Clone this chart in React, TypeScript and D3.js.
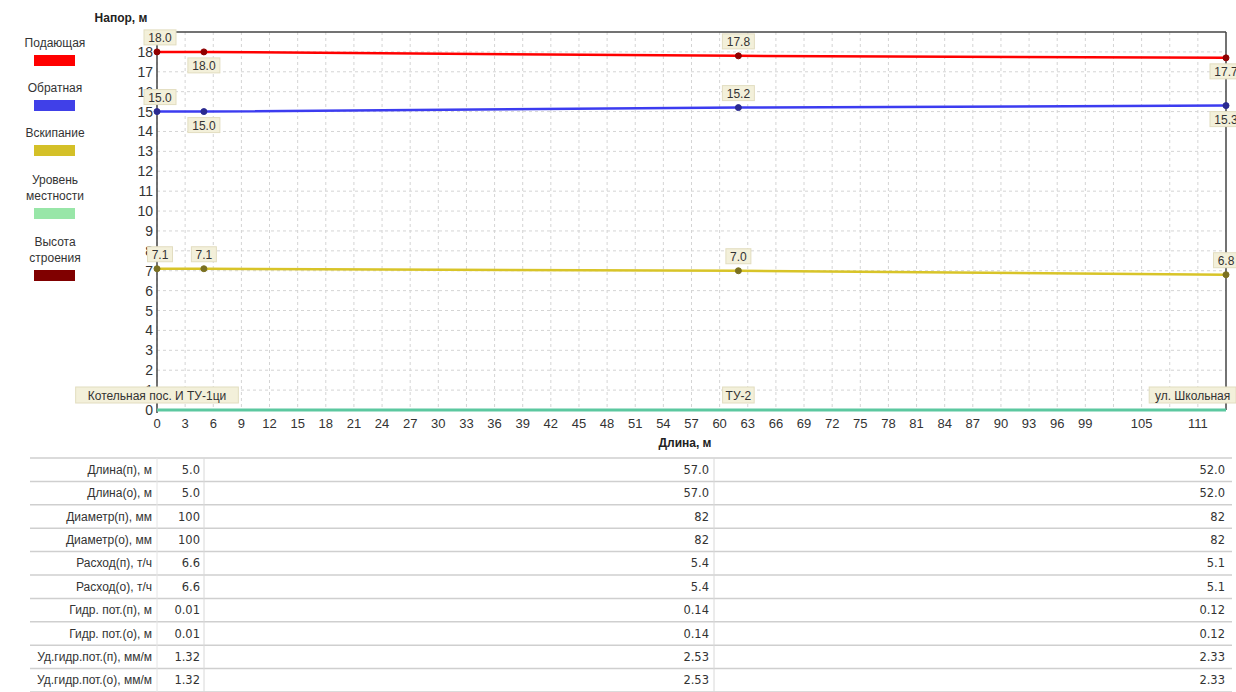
import React from "react";
import * as d3 from "d3";

// ---------- DATA ----------
const nodeX = [0, 5, 62, 114];
const nodeNames = ["Котельная пос. И ТУ-1ци", "", "ТУ-2", "ул. Школьная"];
const supply = [18.0, 18.0, 17.8, 17.7];
const ret = [15.0, 15.0, 15.2, 15.3];
const boiling = [7.1, 7.1, 7.0, 6.8];
const ground = [0, 0, 0, 0];
const building = [0, 0, 0, 0];

const supplyLabelPos = ["above", "below", "above", "below"];
const retLabelPos = ["above", "below", "above", "below"];
const boilLabelPos = ["above", "above", "above", "above"];

const yTicks = d3.range(0, 19, 1);
const xGrid = d3.range(0, 114, 3);
const xTickLabels = [0, 3, 6, 9, 12, 15, 18, 21, 24, 27, 30, 33, 36, 39, 42, 45, 48, 51, 54, 57, 60, 63, 66, 69, 72, 75, 78, 81, 84, 87, 90, 93, 96, 99, 105, 111];

const legendNames = [["Подающая"], ["Обратная"], ["Вскипание"], ["Уровень", "местности"], ["Высота", "строения"]];
const legendColors = ["#ff0000", "#4040e8", "#d4c028", "#98e6a8", "#800000"];

const rowLabels = [
  "Длина(п), м", "Длина(о), м", "Диаметр(п), мм", "Диаметр(о), мм", "Расход(п), т/ч",
  "Расход(о), т/ч", "Гидр. пот.(п), м", "Гидр. пот.(о), м", "Уд.гидр.пот.(п), мм/м", "Уд.гидр.пот.(о), мм/м",
];
const col1 = ["5.0", "5.0", "100", "100", "6.6", "6.6", "0.01", "0.01", "1.32", "1.32"];
const col2 = ["57.0", "57.0", "82", "82", "5.4", "5.4", "0.14", "0.14", "2.53", "2.53"];
const col3 = ["52.0", "52.0", "82", "82", "5.1", "5.1", "0.12", "0.12", "2.33", "2.33"];

// ---------- LAYOUT ----------
const W = 1236, H = 692;
const x = d3.scaleLinear().domain([0, 114]).range([157, 1226]);
const y = d3.scaleLinear().domain([0, 19]).range([410, 32]);
const FONT = "'Liberation Sans', Arial, sans-serif";

function ValueLabel({ cx, cy, text, pos }: { cx: number; cy: number; text: string; pos: string }) {
  const w = text.length * 7 + 4;
  const h = 15;
  const top = pos === "above" ? cy - 7 - h : cy + 6;
  return (
    <g>
      <rect x={cx - w / 2} y={top} width={w} height={h} fill="#f3f0da" stroke="#e2ddc0" strokeWidth={1} />
      <text x={cx} y={top + 12} textAnchor="middle" fontSize={12} fill="#333" fontFamily={FONT}>{text}</text>
    </g>
  );
}

function Series({ data, color, dark, labels }: { data: number[]; color: string; dark: string; labels?: string[] }) {
  const line = d3.line<number>().x((_, i) => x(nodeX[i])).y((d) => y(d));
  return (
    <g>
      <path d={line(data) || ""} fill="none" stroke={color} strokeWidth={2.5} />
      {data.map((d, i) => (
        <circle key={i} cx={x(nodeX[i])} cy={y(d)} r={3} fill={dark} stroke={dark} />
      ))}
      {labels &&
        data.map((d, i) => (
          <ValueLabel key={"l" + i} cx={x(nodeX[i]) + (i === 0 ? 3 : 0)} cy={y(d)} text={d.toFixed(1)} pos={labels[i]} />
        ))}
    </g>
  );
}

export default function App() {
  const rowTop = 458;
  const rowH = 23.4;
  const groundLine = d3.line<number>().x((_, i) => x(nodeX[i])).y((d) => y(d));
  return (
    <svg width={W} height={H} style={{ position: "absolute", left: 0, top: 0, background: "#fff" }} fontFamily={FONT}>
      {/* title */}
      <text x={121} y={22} textAnchor="middle" fontSize={12} fontWeight="bold" fill="#222">Напор, м</text>

      {/* grid */}
      {yTicks.map((t) => (
        <line key={"gy" + t} x1={x(0)} x2={x(114)} y1={y(t)} y2={y(t)} stroke="#d4d4d4" strokeDasharray="3,3" />
      ))}
      {xGrid.map((t) => (
        <line key={"gx" + t} x1={x(t)} x2={x(t)} y1={y(19)} y2={y(0)} stroke="#d4d4d4" strokeDasharray="3,3" />
      ))}

      {/* y tick labels */}
      {yTicks.map((t) => (
        <text key={"yl" + t} x={153} y={y(t) + 5} textAnchor="end" fontSize={14} fill="#333">{t}</text>
      ))}
      {/* x tick labels */}
      {xTickLabels.map((t) => (
        <text key={"xl" + t} x={x(t)} y={428} textAnchor="middle" fontSize={13} fill="#333">{t}</text>
      ))}
      <text x={685} y={447} textAnchor="middle" fontSize={12} fontWeight="bold" fill="#222">Длина, м</text>

      {/* frame */}
      <line x1={x(0)} x2={x(114)} y1={y(19)} y2={y(19)} stroke="#444" strokeWidth={1.5} />
      <line x1={x(114)} x2={x(114)} y1={y(19)} y2={y(0)} stroke="#444" strokeWidth={1.5} />
      <line x1={x(0)} x2={x(0)} y1={y(19)} y2={y(0) + 3} stroke="#444" strokeWidth={1.5} />

      {/* ground / building */}
      <path d={groundLine(building) || ""} fill="none" stroke="#800000" strokeWidth={2} />
      <path d={groundLine(ground) || ""} fill="none" stroke="#5cc8a0" strokeWidth={3} />

      {/* node name labels */}
      {nodeNames.map((n, i) => {
        if (!n) return null;
        const w = n.length * 6.9 + 4;
        let cx = x(nodeX[i]);
        let left = cx - w / 2;
        if (left + w > W) left = W - w;
        return (
          <g key={"nn" + i}>
            <rect x={left} y={387} width={w} height={16} fill="#f3f0da" stroke="#e2ddc0" />
            <text x={left + w / 2} y={399.5} textAnchor="middle" fontSize={12} fill="#333">{n}</text>
          </g>
        );
      })}

      {/* series */}
      <Series data={boiling} color="#d8c428" dark="#7a7020" labels={boilLabelPos} />
      <Series data={ret} color="#3c3cf0" dark="#2a2a90" labels={retLabelPos} />
      <Series data={supply} color="#ff0000" dark="#900000" labels={supplyLabelPos} />

      {/* legend */}
      {legendNames.map((lines, i) => {
        const tops = [43, 88, 133, 180, 242];
        const t0 = tops[i];
        return (
          <g key={"lg" + i}>
            {lines.map((ln, j) => (
              <text key={j} x={55} y={t0 + 4 + j * 16} textAnchor="middle" fontSize={12} fill="#333">{ln}</text>
            ))}
            <rect x={34} y={t0 + 12 + (lines.length - 1) * 16} width={41} height={11} fill={legendColors[i]} />
          </g>
        );
      })}

      {/* table */}
      {d3.range(rowLabels.length + 1).map((r) => (
        <line key={"tr" + r} x1={30} x2={1232} y1={rowTop + r * rowH} y2={rowTop + r * rowH} stroke="#cfcfcf" strokeWidth={1.5} />
      ))}
      <line x1={157} x2={157} y1={rowTop} y2={H} stroke="#e4e4e4" />
      <line x1={204} x2={204} y1={rowTop} y2={H} stroke="#d8d8d8" />
      <line x1={714} x2={714} y1={rowTop} y2={H} stroke="#d8d8d8" />
      {rowLabels.map((lb, r) => {
        const cy = rowTop + r * rowH + rowH / 2 + 4;
        return (
          <g key={"row" + r} fontSize={11.5} fill="#333" fontFamily="'DejaVu Sans', Tahoma, sans-serif">
            <text x={152} y={cy} textAnchor="end" fontFamily={FONT} fontSize={12}>{lb}</text>
            <text x={200} y={cy} textAnchor="end">{col1[r]}</text>
            <text x={709} y={cy} textAnchor="end">{col2[r]}</text>
            <text x={1225} y={cy} textAnchor="end">{col3[r]}</text>
          </g>
        );
      })}
    </svg>
  );
}
